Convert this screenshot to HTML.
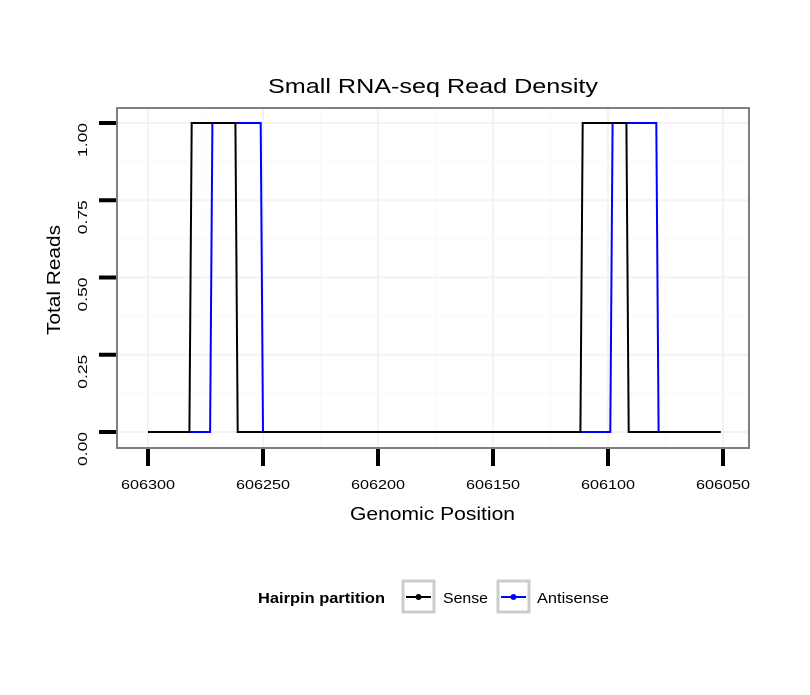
<!DOCTYPE html>
<html><head><meta charset="utf-8"><style>
body{margin:0;background:#fff;}
svg text{font-family:"Liberation Sans",sans-serif;}
</style></head><body>
<svg id="chart" width="810" height="690" xmlns="http://www.w3.org/2000/svg">
<rect width="810" height="690" fill="#fff"/>
<text x="268" y="93" font-size="20" textLength="330" lengthAdjust="spacingAndGlyphs">Small RNA-seq Read Density</text>
<g id="grid"></g>
<g id="series"></g>
<rect x="117" y="108" width="632" height="340" fill="none" stroke="#7f7f7f" stroke-width="2"/>
<g id="axes"></g>
<text x="350" y="520" font-size="18" textLength="165" lengthAdjust="spacingAndGlyphs">Genomic Position</text>
<text transform="translate(60,335) rotate(-90)" font-size="18" textLength="110" lengthAdjust="spacingAndGlyphs">Total Reads</text>
<g>
<text x="258" y="603" font-size="15" font-weight="bold" textLength="127" lengthAdjust="spacingAndGlyphs">Hairpin partition</text>
<g>
<rect x="403" y="581" width="31" height="31" fill="#fff" stroke="#cccccc" stroke-width="3"/>
<line x1="406" y1="597" x2="431" y2="597" stroke="#000" stroke-width="2"/>
<circle cx="418.5" cy="597" r="3" fill="#000"/>
<text x="443" y="603" font-size="15" textLength="45" lengthAdjust="spacingAndGlyphs">Sense</text>
</g>
<g>
<rect x="498" y="581" width="31" height="31" fill="#fff" stroke="#cccccc" stroke-width="3"/>
<line x1="501" y1="597" x2="526" y2="597" stroke="#0000ff" stroke-width="2"/>
<circle cx="513.5" cy="597" r="3" fill="#0000ff"/>
<text x="537" y="603" font-size="15" textLength="72" lengthAdjust="spacingAndGlyphs">Antisense</text>
</g>
</g>
</svg>
<script>
const xTicks = [606300, 606250, 606200, 606150, 606100, 606050];
const yTicks = [0, 0.25, 0.5, 0.75, 1.0];
const yTickLabels = ["0.00", "0.25", "0.50", "0.75", "1.00"];
const senseX = [606300, 606282, 606281, 606262, 606261, 606112, 606111, 606092, 606091, 606051];
const senseY = [0, 0, 1, 1, 0, 0, 1, 1, 0, 0];
const antisenseX = [606300, 606273, 606272, 606251, 606250, 606099, 606098, 606079, 606078, 606051];
const antisenseY = [0, 0, 1, 1, 0, 0, 1, 1, 0, 0];

const NS = "http://www.w3.org/2000/svg";
function xs(v){ return 148 + (606300 - v) * 2.3; }
function ys(v){ return 432 - v * 309; }
function mk(tag, attrs, parent){ const e = document.createElementNS(NS, tag); for (const k in attrs) e.setAttribute(k, attrs[k]); parent.appendChild(e); return e; }
const grid = document.getElementById('grid'), axes = document.getElementById('axes'), series = document.getElementById('series');

for (let i = 0; i < xTicks.length; i++) {
  const x = xs(xTicks[i]);
  const g = mk('line', {x1:x, x2:x, y1:109, y2:447, stroke:'#f3f3f3', 'stroke-width':2}, grid);
  
  
  if (i < xTicks.length - 1) {
    const xm = xs((xTicks[i] + xTicks[i+1]) / 2);
    mk('line', {x1:xm, x2:xm, y1:109, y2:447, stroke:'#f9f9f9', 'stroke-width':1}, grid);
  }
  const t = mk('line', {x1:x, x2:x, y1:449, y2:466, stroke:'#000', 'stroke-width':4}, axes);
  
  
  const l = mk('text', {x:x - 27, y:489, 'font-size':13, textLength:54, lengthAdjust:'spacingAndGlyphs'}, axes);
  l.textContent = xTicks[i];
  
  
}
for (let i = 0; i < yTicks.length; i++) {
  const y = ys(yTicks[i]);
  const g = mk('line', {x1:118, x2:748, y1:y, y2:y, stroke:'#f3f3f3', 'stroke-width':2}, grid);
  
  
  if (i < yTicks.length - 1) {
    const ym = ys((yTicks[i] + yTicks[i+1]) / 2);
    mk('line', {x1:118, x2:748, y1:ym, y2:ym, stroke:'#f9f9f9', 'stroke-width':1}, grid);
  }
  const t = mk('line', {x1:99, x2:116, y1:y, y2:y, stroke:'#000', 'stroke-width':4}, axes);
  
  
  const l = mk('text', {x:0, y:0, 'font-size':13, textLength:34, lengthAdjust:'spacingAndGlyphs', transform:'translate(87,' + (y + 34) + ') rotate(-90)'}, axes);
  l.textContent = yTickLabels[i];
  
  
}
function drawLine(X, Y, color, name){
  const pts = X.map((v, i) => xs(v) + ',' + ys(Y[i])).join(' ');
  const p = mk('polyline', {points:pts, fill:'none', stroke:color, 'stroke-width':2}, series);
  
  
}
drawLine(antisenseX, antisenseY, '#0000ff', 'antisense-line');
drawLine(senseX, senseY, '#000000', 'sense-line');
</script>
</body></html>
